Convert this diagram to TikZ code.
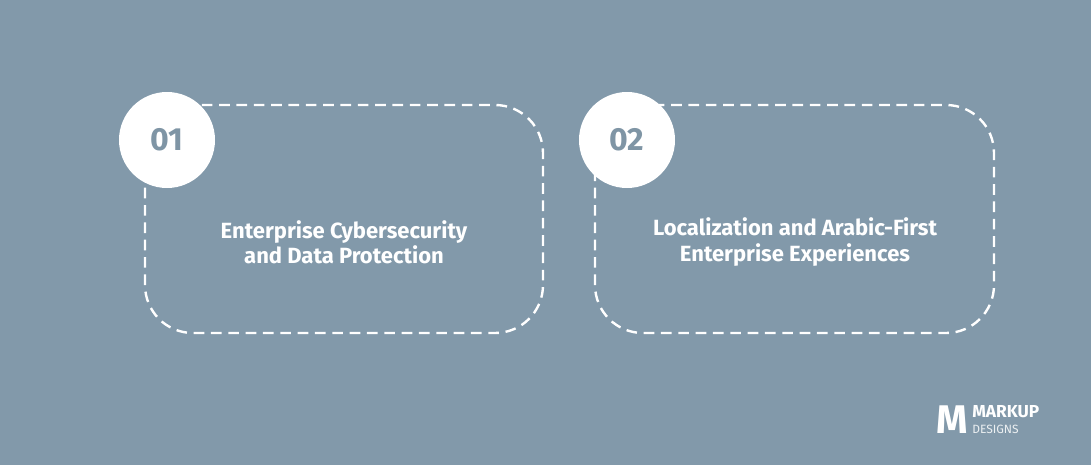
\documentclass[tikz,border=0pt]{standalone}
\usepackage{fontspec}
\setmainfont{Fira Sans}
\definecolor{bgslate}{HTML}{8299AA}
\definecolor{numslate}{HTML}{7F95A5}

\begin{document}
\begin{tikzpicture}[x=0.75pt, y=-0.75pt,
	card/.style={draw=white, line width=1.8pt, dash pattern=on 8pt off 5pt, rounded corners=36pt},
	badge/.style={circle, fill=white, minimum size=72pt, inner sep=0pt, font=\fontsize{24}{26}\selectfont\bfseries, text=numslate},
	label/.style={align=center, text=white, font=\fontsize{16.5}{19}\selectfont\bfseries}]

		\fill[bgslate] (0,0) rectangle (1091,465);

		% cards
		\draw[card] (145,105) rectangle (543,333);
		\draw[card] (595,105) rectangle (994,333);
		\node[badge] (b1) at (167,140) {01};
		\node[badge] (b2) at (627,140) {02};
		\node[label] (t1) at (344,242) {Enterprise Cybersecurity\\and Data Protection};
		\node[label] (t2) at (795,242) {Localization and Arabic-First\\Enterprise Experiences};

		% logo
		\node[text=white, font=\fontsize{30}{30}\selectfont\bfseries] (logo) at (952,420) {M};
		\node[anchor=west, text=white, inner sep=0pt, font=\fontsize{13}{13}\selectfont\bfseries] (mk) at (972,412) {MARKUP};
		\node[anchor=west, text=white!85!bgslate, inner sep=0pt, font=\fontsize{9}{9}\selectfont] (ds) at (972,429) {DESIGNS};
\end{tikzpicture}
\end{document}
